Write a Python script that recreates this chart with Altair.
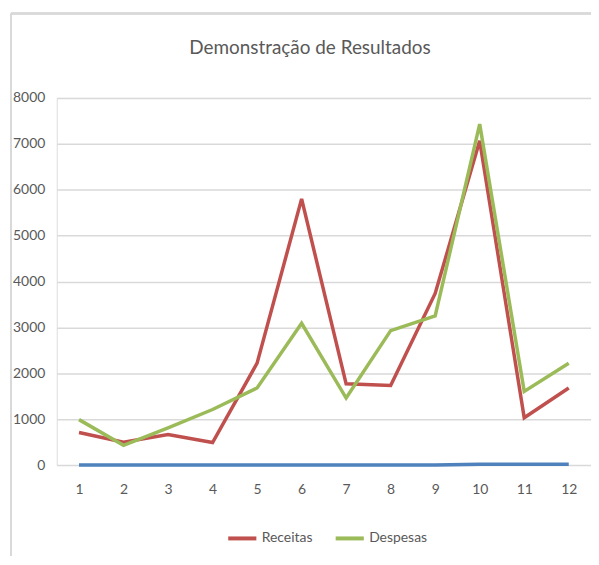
import altair as alt
import pandas as pd

meses = [str(m) for m in range(1, 13)]
receitas = [710, 500, 665, 490, 2220, 5800, 1770, 1735, 3740, 7065, 1030, 1680]
despesas = [990, 430, 810, 1210, 1680, 3090, 1460, 2930, 3250, 7430, 1605, 2220]
base = [0, 0, 0, 0, 0, 0, 0, 0, 0, 20, 20, 20]

df = pd.DataFrame({
    "Mês": meses * 2,
    "Valor": receitas + despesas,
    "Série": ["Receitas"] * 12 + ["Despesas"] * 12,
})
df_base = pd.DataFrame({"Mês": meses, "Valor": base})

FONT = "Lato"
GRAY = "#595959"
FRAME = "#d9d9d9"

x = alt.X("Mês:O", sort=meses, title=None,
          scale=alt.Scale(padding=0.5),
          axis=alt.Axis(labelAngle=0, domain=False, ticks=False, grid=False,
                        labelPadding=18, labelFontSize=14, labelColor=GRAY, labelFont=FONT))
y = alt.Y("Valor:Q", title=None,
          scale=alt.Scale(domain=[0, 8000]),
          axis=alt.Axis(values=list(range(0, 8001, 1000)), format="d", domain=False, ticks=False,
                        gridColor="#d9d9d9", gridWidth=1.5, labelPadding=12,
                        labelFontSize=14, labelColor=GRAY, labelFont=FONT))

color_scale = alt.Scale(domain=["Receitas", "Despesas"], range=["#C0504D", "#9BBB59"])
legend = alt.Legend(title=None, orient="none", direction="horizontal", legendX=170, legendY=426,
                    symbolType="stroke", symbolStrokeWidth=4, symbolSize=800,
                    labelFontSize=14, labelColor=GRAY, labelFont=FONT, columnPadding=14,
                    labelOffset=3)

# decorative chart frame (left and top edges)
frame_left = alt.Chart(df_base).mark_rule(color=FRAME, strokeWidth=1.5).encode(
    x=alt.value(-46), y=alt.value(-85), y2=alt.value(470))
frame_top = alt.Chart(df_base).mark_rule(color=FRAME, strokeWidth=1.5).encode(
    x=alt.value(-46), x2=alt.value(545), y=alt.value(-85))

blue = alt.Chart(df_base).mark_line(color="#4F81BD", strokeWidth=3.5).encode(x=x, y=y)
red = alt.Chart(df[df["Série"] == "Receitas"]).mark_line(strokeWidth=3.5).encode(
    x=x, y=y, color=alt.Color("Série:N", scale=color_scale, legend=legend, sort=["Receitas", "Despesas"]))
green = alt.Chart(df[df["Série"] == "Despesas"]).mark_line(strokeWidth=3.5).encode(
    x=x, y=y, color=alt.Color("Série:N", scale=color_scale, legend=legend, sort=["Receitas", "Despesas"]))

chart = alt.layer(frame_left, frame_top, blue, red, green).properties(
    width=537, height=369,
    title=alt.TitleParams("Demonstração de Resultados", font=FONT, fontSize=19,
                          fontWeight="normal", color=GRAY, anchor="middle",
                          offset=-46, dx=-14),
    autosize=alt.AutoSizeParams(type="none"),
    padding={"left": 49, "top": 89, "right": 0, "bottom": 90},
).configure_view(stroke=None).configure(background="white")

chart.save("out.html", embed_options={"renderer": "svg", "actions": False})
